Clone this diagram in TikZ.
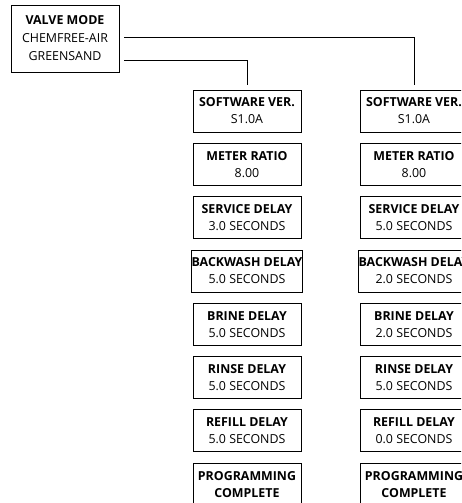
\documentclass[tikz,border=0pt]{standalone}
\usepackage{fontspec}
\setmainfont{Open Sans}
\usetikzlibrary{positioning}

\begin{document}
\begin{tikzpicture}[x=1pt, y=-1pt,
		every node/.style={draw, line width=0.8pt, align=center, inner sep=0pt,
			font=\fontsize{12.4}{17}\selectfont},
		box/.style={minimum width=108pt, minimum height=42pt},
		link/.style={line width=0.8pt, shorten <=5pt, shorten >=5pt}
		]
		\useasboundingbox (0,0) rectangle (461,503);
		\clip (0,0) rectangle (461,503);
		\node[minimum width=108pt, minimum height=67pt, font=\fontsize{12.4}{18}\selectfont] (valve) at (65,38.5) {\textbf{VALVE MODE}\\CHEMFREE-AIR\\GREENSAND};
		% greensand column
		\node[box] (gSoft) at (247,111) {\textbf{SOFTWARE VER.}\\S1.0A};
		\node[box] (gMeter) at (247,164.3) {\textbf{METER RATIO}\\8.00};
		\node[box] (gServ) at (247,217.6) {\textbf{SERVICE DELAY}\\3.0 SECONDS};
		\node[box] (gBack) at (247,270.9) {\textbf{BACKWASH DELAY}\\5.0 SECONDS};
		\node[box] (gBrine) at (247,324.2) {\textbf{BRINE DELAY}\\5.0 SECONDS};
		\node[box] (gRinse) at (247,377.5) {\textbf{RINSE DELAY}\\5.0 SECONDS};
		\node[box] (gRefill) at (247,430.8) {\textbf{REFILL DELAY}\\5.0 SECONDS};
		\node[box] (gDone) at (247,484.1) {\textbf{PROGRAMMING}\\\textbf{COMPLETE}};
		% chemfree-air column
		\node[box] (cSoft) at (414,111) {\textbf{SOFTWARE VER.}\\S1.0A};
		\node[box] (cMeter) at (414,164.3) {\textbf{METER RATIO}\\8.00};
		\node[box] (cServ) at (414,217.6) {\textbf{SERVICE DELAY}\\5.0 SECONDS};
		\node[box] (cBack) at (414,270.9) {\textbf{BACKWASH DELAY}\\2.0 SECONDS};
		\node[box] (cBrine) at (414,324.2) {\textbf{BRINE DELAY}\\2.0 SECONDS};
		\node[box] (cRinse) at (414,377.5) {\textbf{RINSE DELAY}\\5.0 SECONDS};
		\node[box] (cRefill) at (414,430.8) {\textbf{REFILL DELAY}\\0.0 SECONDS};
		\node[box] (cDone) at (414,484.1) {\textbf{PROGRAMMING}\\\textbf{COMPLETE}};
		\draw[link] ([yshift=1.5pt]valve.east) -| (cSoft.north);
		\draw[link] ([yshift=-21.5pt]valve.east) -| (gSoft.north);
	\end{tikzpicture}
\end{document}
